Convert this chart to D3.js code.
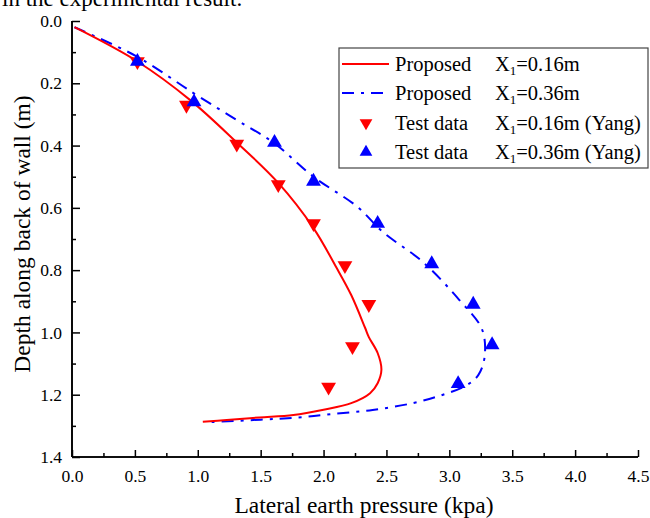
<!DOCTYPE html>
<html><head><meta charset="utf-8">
<script src="https://cdn.jsdelivr.net/npm/d3@7"></script>
<style>body{margin:0;background:#fff}svg{display:block}</style>
</head><body>
<svg id="c" width="650" height="518"></svg>
<script>
// Data
const proposed016 = [[0.02,0.02],[0.52,0.13],[0.94,0.254],[1.31,0.39],[1.64,0.52],[1.92,0.665],[2.10,0.79],[2.22,0.88],[2.33,0.985],[2.36,1.015],[2.43,1.066],[2.46,1.12],[2.43,1.163],[2.37,1.195],[2.22,1.227],[2.0,1.248],[1.76,1.265],[1.49,1.273],[1.23,1.281],[1.04,1.287]];
const proposed036 = [[0.02,0.02],[0.52,0.115],[0.96,0.23],[1.31,0.318],[1.60,0.39],[1.92,0.50],[2.27,0.597],[2.47,0.677],[2.79,0.774],[3.08,0.896],[3.26,0.99],[3.28,1.08],[3.23,1.137],[3.14,1.169],[2.95,1.20],[2.71,1.227],[2.39,1.249],[2.07,1.262],[1.80,1.273],[1.50,1.28],[1.10,1.288]];
const test016 = [[0.52,0.13],[0.91,0.27],[1.31,0.395],[1.64,0.525],[1.92,0.65],[2.17,0.785],[2.36,0.91],[2.23,1.045],[2.04,1.175]];
const test036 = [[0.52,0.13],[0.97,0.26],[1.61,0.39],[1.92,0.515],[2.43,0.65],[2.86,0.78],[3.19,0.91],[3.34,1.04],[3.07,1.165]];
const xTicks = [0,0.5,1,1.5,2,2.5,3,3.5,4,4.5];
const yTicks = [0,0.2,0.4,0.6,0.8,1.0,1.2,1.4];
const legendNames = ["Proposed","Proposed","Test data","Test data"];
const legendCases = ["=0.16m","=0.36m","=0.16m (Yang)","=0.36m (Yang)"];

const svg = d3.select("#c");
const font = "'Liberation Serif','Times New Roman',serif";
const x = d3.scaleLinear().domain([0,4.5]).range([72,638]);
const y = d3.scaleLinear().domain([0,1.4]).range([21,457]);

// cropped caption above
svg.append("text").attr("x",2).attr("y",6).attr("font-family",font).attr("font-size",23).text("in the experimental result.");

// axes
const gx = svg.append("g").attr("transform","translate(0,457)");
gx.call(d3.axisBottom(x).tickValues(xTicks).tickSize(-7).tickPadding(13).tickFormat(d3.format(".1f")));
gx.append("g").call(d3.axisBottom(x).tickValues(d3.range(0.25,4.5,0.5)).tickSize(-4).tickFormat(""));
const gy = svg.append("g").attr("transform","translate(72,0)");
gy.call(d3.axisLeft(y).tickValues(yTicks).tickSize(-8).tickPadding(10).tickFormat(d3.format(".1f")));
gy.append("g").call(d3.axisLeft(y).tickValues(d3.range(0.1,1.4,0.2)).tickSize(-4).tickFormat(""));
svg.selectAll(".domain").attr("stroke","#000").attr("stroke-width",1.6);
svg.selectAll(".tick line").attr("stroke","#000").attr("stroke-width",1.5);
svg.selectAll(".tick text").attr("font-family",font).attr("font-size",17.5).attr("fill","#000");
gx.selectAll(".domain").attr("d","M72,0H638");
gy.selectAll(".domain").attr("d","M0,21V457");

// axis titles
svg.append("text").attr("x",364).attr("y",513).attr("text-anchor","middle").attr("font-family",font).attr("font-size",23.5).text("Lateral earth pressure (kpa)");
svg.append("text").attr("transform","translate(30,234) rotate(-90)").attr("text-anchor","middle").attr("font-family",font).attr("font-size",23.5).text("Depth along back of wall (m)");

// curves
const line = d3.line().x(d=>x(d[0])).y(d=>y(d[1])).curve(d3.curveCatmullRom.alpha(0.5));
svg.append("path").attr("d",line(proposed036)).attr("fill","none").attr("stroke","#0000ff").attr("stroke-width",2).attr("stroke-dasharray","12,7,3,7");
svg.append("path").attr("d",line(proposed016)).attr("fill","none").attr("stroke","#ff0000").attr("stroke-width",2);

const tri = d3.symbol().type(d3.symbolTriangle).size(95);
svg.selectAll(".t016").data(test016).enter().append("path").attr("d",tri)
  .attr("transform",d=>`translate(${x(d[0])},${y(d[1])}) rotate(180)`).attr("fill","#ff0000");
svg.selectAll(".t036").data(test036).enter().append("path").attr("d",tri)
  .attr("transform",d=>`translate(${x(d[0])},${y(d[1])})`).attr("fill","#0000ff");

// legend
const lg = svg.append("g");
lg.append("rect").attr("x",339).attr("y",48).attr("width",309).attr("height",120).attr("fill","#fff").attr("stroke","#444").attr("stroke-width",1.2);
const rowsY = [64,93,123,152];
legendNames.forEach((n,i)=>{
  const yy = rowsY[i];
  if(i===0) lg.append("line").attr("x1",342).attr("x2",389).attr("y1",yy).attr("y2",yy).attr("stroke","#ff0000").attr("stroke-width",2);
  if(i===1) lg.append("line").attr("x1",342).attr("x2",389).attr("y1",yy).attr("y2",yy).attr("stroke","#0000ff").attr("stroke-width",2).attr("stroke-dasharray","12,7,3,7");
  if(i===2) lg.append("path").attr("d",d3.symbol().type(d3.symbolTriangle).size(70)).attr("transform",`translate(366,${yy}) rotate(180)`).attr("fill","#ff0000");
  if(i===3) lg.append("path").attr("d",d3.symbol().type(d3.symbolTriangle).size(70)).attr("transform",`translate(366,${yy})`).attr("fill","#0000ff");
  lg.append("text").attr("x",395).attr("y",yy+7).attr("font-family",font).attr("font-size",20.5).text(n);
  const t = lg.append("text").attr("x",495).attr("y",yy+7).attr("font-family",font).attr("font-size",20.5);
  t.append("tspan").text("X");
  t.append("tspan").attr("font-size",13).attr("dy",4).text("1");
  t.append("tspan").attr("dy",-4).text(legendCases[i]);
});
</script>
</body></html>
